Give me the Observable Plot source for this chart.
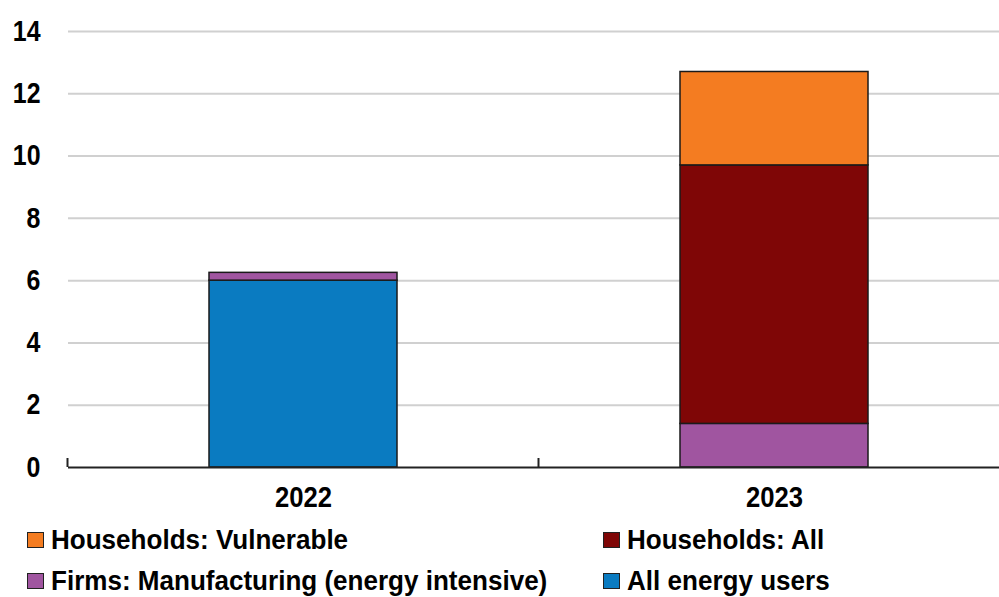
<!DOCTYPE html>
<html>
<head>
<meta charset="utf-8">
<script src="https://cdn.jsdelivr.net/npm/d3@7"></script>
<script src="https://cdn.jsdelivr.net/npm/@observablehq/plot@0.6"></script>
<style>
  html, body { margin: 0; padding: 0; background: #fff; }
  body { width: 999px; height: 597px; overflow: hidden; font-family: "Liberation Sans", Arial, sans-serif; font-weight: bold; color: #000; }
  #chart { width: 999px; height: 520px; overflow: hidden; }
  #chart svg { display: block; max-width: none !important; width: 1010px !important; height: 520px !important; }
  #legend { position: relative; height: 77px; }
  .item { position: absolute; display: flex; align-items: center; height: 30px; white-space: nowrap; }
  .sw { width: 17px; height: 16px; border: 1.5px solid #222; margin-right: 7px; box-sizing: border-box; flex: none; }
  .lbl { display: inline-block; font-size: 28px; line-height: 30px; transform: scaleX(0.93); transform-origin: left center; }
</style>
</head>
<body>
<div id="chart"></div>
<div id="legend"></div>
<script>
const years = ["2022", "2023"];
const seriesNames = ["All energy users", "Firms: Manufacturing (energy intensive)", "Households: All", "Households: Vulnerable"];
const seriesColors = ["#0A7BC1", "#A055A0", "#7F0606", "#F47C21"];
const allEnergyUsers = [6.0, 0];
const firmsManufacturing = [0.25, 1.4];
const householdsAll = [0, 8.3];
const householdsVulnerable = [0, 3.0];
const yTicks = [0, 2, 4, 6, 8, 10, 12, 14];
const legendOrder = ["Households: Vulnerable", "Households: All", "Firms: Manufacturing (energy intensive)", "All energy users"];

const valuesBySeries = [allEnergyUsers, firmsManufacturing, householdsAll, householdsVulnerable];
const rows = [];
seriesNames.forEach((s, i) => {
  years.forEach((y, j) => {
    if (valuesBySeries[i][j] > 0) rows.push({year: y, series: s, value: valuesBySeries[i][j]});
  });
});

const font = '"Liberation Sans", Arial, sans-serif';

const plot = Plot.plot({
  width: 1010,
  height: 520,
  marginLeft: 68,
  marginRight: 0,
  marginTop: 31,
  marginBottom: 53,
  style: {fontFamily: font, fontSize: "28px", fontWeight: "bold", color: "#000", background: "#fff"},
  x: {domain: years, paddingInner: 0.6, paddingOuter: 0.3, label: null, tickSize: 0, tickPadding: 18},
  y: {domain: [0, 14], ticks: yTicks, label: null, tickSize: 0, tickPadding: 28, tickFormat: d3.format("d")},
  color: {domain: seriesNames, range: seriesColors},
  marks: [
    Plot.ruleY(yTicks.filter(d => d > 0), {stroke: "#d0d0d0", strokeWidth: 2}),
    Plot.barY(rows, Plot.stackY({order: seriesNames}, {x: "year", y: "value", fill: "series", stroke: "#1a1a1a", strokeWidth: 1.5})),
    Plot.ruleY([0], {stroke: "#222", strokeWidth: 2}),
    (index, scales, values, dimensions) => {
      const x = scales.x;
      const y0 = scales.y(0);
      const step = x.step();
      const pad = (step - x.bandwidth()) / 2;
      const g = d3.create("svg:g").attr("stroke", "#222").attr("stroke-width", 2);
      const bounds = years.map(yr => x(yr) - pad).concat([x(years[years.length - 1]) + x.bandwidth() + pad]);
      bounds.forEach(b => {
        g.append("line").attr("x1", b).attr("x2", b).attr("y1", y0).attr("y2", y0 - 9);
      });
      return g.node();
    }
  ]
});

function condense(selector, size, sx) {
  plot.querySelectorAll(selector).forEach(g => {
    g.setAttribute("font-size", size);
    g.querySelectorAll("text").forEach(t => {
      t.setAttribute("font-size", size);
      const tr = t.getAttribute("transform") || "";
      t.setAttribute("transform", tr + ` scale(${sx},1)`);
    });
  });
}
condense('g[aria-label="y-axis tick label"]', 29, 0.86);
condense('g[aria-label="x-axis tick label"]', 30, 0.855);

document.getElementById("chart").appendChild(plot);

const legend = document.getElementById("legend");
const positions = [[27, 5], [603, 5], [27, 46], [603, 46]];
legendOrder.forEach((name, i) => {
  const item = document.createElement("div");
  item.className = "item";
  item.style.left = positions[i][0] + "px";
  item.style.top = positions[i][1] + "px";
  const sw = document.createElement("div");
  sw.className = "sw";
  sw.style.background = seriesColors[seriesNames.indexOf(name)];
  item.appendChild(sw);
  const t = document.createElement("span");
  t.className = "lbl";
  t.textContent = name;
  item.appendChild(t);
  legend.appendChild(item);
});
</script>
</body>
</html>
